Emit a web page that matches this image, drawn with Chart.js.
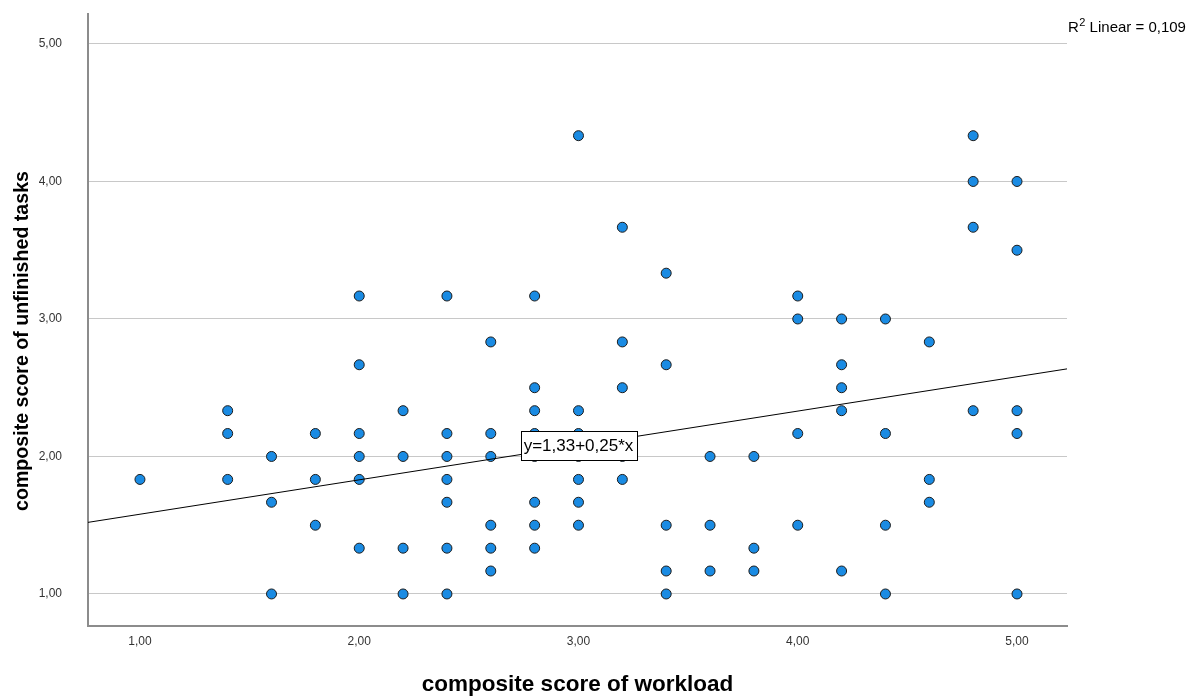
<!DOCTYPE html>
<html>
<head>
<meta charset="utf-8">
<title>Workload vs unfinished tasks</title>
<script src="https://cdn.jsdelivr.net/npm/chart.js@4.4.1/dist/chart.umd.min.js"></script>
<style>
    html, body { margin: 0; padding: 0; background: #fff; }
    #wrap { width: 1198px; height: 698px; position: relative; }
</style>
</head>
<body>
<div id="wrap"><canvas id="scatterChart" width="1198" height="698"></canvas></div>
<script>
// Data (one entry per respondent)
const workload = [
    1.0,
    1.4, 1.4, 1.4,
    1.6, 1.6, 1.6,
    1.8, 1.8, 1.8,
    2.0, 2.0, 2.0, 2.0, 2.0, 2.0,
    2.2, 2.2, 2.2, 2.2,
    2.4, 2.4, 2.4, 2.4, 2.4, 2.4, 2.4,
    2.6, 2.6, 2.6, 2.6, 2.6, 2.6,
    2.8, 2.8, 2.8, 2.8, 2.8, 2.8, 2.8, 2.8,
    3.0, 3.0, 3.0, 3.0, 3.0, 3.0, 3.0,
    3.2, 3.2, 3.2, 3.2, 3.2,
    3.4, 3.4, 3.4, 3.4, 3.4,
    3.6, 3.6, 3.6,
    3.8, 3.8, 3.8,
    4.0, 4.0, 4.0, 4.0,
    4.2, 4.2, 4.2, 4.2, 4.2,
    4.4, 4.4, 4.4, 4.4,
    4.6, 4.6, 4.6,
    4.8, 4.8, 4.8, 4.8,
    5.0, 5.0, 5.0, 5.0, 5.0
];
const unfinished = [
    1.833,
    2.333, 2.167, 1.833,
    2.0, 1.667, 1.0,
    2.167, 1.833, 1.5,
    3.167, 2.667, 2.167, 2.0, 1.833, 1.333,
    2.333, 2.0, 1.333, 1.0,
    3.167, 2.167, 2.0, 1.833, 1.667, 1.333, 1.0,
    2.833, 2.167, 2.0, 1.5, 1.333, 1.167,
    3.167, 2.5, 2.333, 2.167, 2.0, 1.667, 1.5, 1.333,
    4.333, 2.333, 2.167, 2.0, 1.833, 1.667, 1.5,
    3.667, 2.833, 2.5, 2.0, 1.833,
    3.333, 2.667, 1.5, 1.167, 1.0,
    2.0, 1.5, 1.167,
    2.0, 1.333, 1.167,
    3.167, 3.0, 2.167, 1.5,
    3.0, 2.667, 2.5, 2.333, 1.167,
    3.0, 2.167, 1.5, 1.0,
    2.833, 1.833, 1.667,
    4.333, 4.0, 3.667, 2.333,
    4.0, 3.5, 2.333, 2.167, 1.0
];

// Axis ranges and tick labels
const xRange = [0.763, 5.228];
const yRange = [0.767, 5.218];
const tickValues = [1, 2, 3, 4, 5];
const yTitle = 'composite score of unfinished tasks';

// Linear fit reported in the chart
const fitIntercept = 1.33;
const fitSlope = 0.25;
const fitLabel = 'y=1,33+0,25*x';
const fitLabelAt = 3.0;
const rSquaredText = '0,109';

const FONT = "'Liberation Sans', Arial, sans-serif";

function fmtComma(v) {
    return Number(v).toFixed(2).replace('.', ',');
}

const points = workload.map((x, i) => ({ x: x, y: unfinished[i] }));
const fitPoints = xRange.map(x => ({ x: x, y: fitIntercept + fitSlope * x }));

// Draw equation box, R² note and the (condensed) y axis title
const annotations = {
    id: 'annotations',
    afterDatasetsDraw(chart) {
        const ctx = chart.ctx;
        const xs = chart.scales.x;
        const ys = chart.scales.y;

        // equation label sitting on the fit line
        const cx = xs.getPixelForValue(fitLabelAt);
        const cy = ys.getPixelForValue(fitIntercept + fitSlope * fitLabelAt);
        ctx.save();
        ctx.font = "17px 'Liberation Sans Narrow', 'Liberation Sans', Arial, sans-serif";
        const w = ctx.measureText(fitLabel).width + 6;
        const h = 29;
        ctx.fillStyle = '#ffffff';
        ctx.fillRect(Math.round(cx - w / 2) + 0.5, Math.round(cy - h / 2) + 0.5, Math.round(w), h);
        ctx.strokeStyle = '#000000';
        ctx.lineWidth = 1;
        ctx.strokeRect(Math.round(cx - w / 2) + 0.5, Math.round(cy - h / 2) + 0.5, Math.round(w), h);
        ctx.fillStyle = '#000000';
        ctx.textAlign = 'center';
        ctx.textBaseline = 'middle';
        ctx.fillText(fitLabel, cx, cy + 1);

        // R² Linear note, top right
        const left = chart.chartArea.right + 1;
        const base = 32;
        ctx.textAlign = 'left';
        ctx.textBaseline = 'alphabetic';
        ctx.font = '15px ' + FONT;
        ctx.fillText('R', left, base);
        let px = left + ctx.measureText('R').width;
        ctx.font = '11px ' + FONT;
        ctx.fillText('2', px + 0.5, base - 6);
        px += ctx.measureText('2').width + 0.5;
        ctx.font = '15px ' + FONT;
        ctx.fillText(' Linear = ' + rSquaredText, px, base);

        // y axis title, squeezed along its length like the original
        ctx.font = 'bold 21px ' + FONT;
        const tw = ctx.measureText(yTitle).width;
        ctx.translate(22, 341);
        ctx.rotate(-Math.PI / 2);
        ctx.scale(340 / tw, 1);
        ctx.textAlign = 'center';
        ctx.textBaseline = 'middle';
        ctx.fillText(yTitle, 0, 0);
        ctx.restore();
    }
};

const ctx = document.getElementById('scatterChart');
const chart = new Chart(ctx, {
    type: 'scatter',
    data: {
        datasets: [{
            label: 'Observed',
            data: points,
            backgroundColor: '#1a8be3',
            borderColor: '#1c1c1c',
            borderWidth: 1,
            pointRadius: 5,
            pointHoverRadius: 5,
            order: 2
        }, {
            type: 'line',
            label: 'Linear fit',
            data: fitPoints,
            borderColor: '#000000',
            borderWidth: 1,
            pointRadius: 0,
            fill: false,
            order: 1
        }]
    },
    options: {
        responsive: false,
        animation: false,
        events: [],
        layout: {
            padding: { top: 14, right: 131, left: 0, bottom: 0 }
        },
        plugins: {
            legend: { display: false },
            tooltip: { enabled: false }
        },
        scales: {
            x: {
                type: 'linear',
                min: xRange[0],
                max: xRange[1],
                afterBuildTicks: scale => {
                    scale.ticks = tickValues.map(v => ({ value: v }));
                },
                afterFit: scale => {
                    scale.height = 72;
                    scale.paddingLeft = 0;
                    scale.paddingRight = 0;
                },
                grid: { display: false, drawTicks: false },
                border: { display: true, color: '#8c8c8c', width: 2 },
                ticks: {
                    padding: 8,
                    color: '#333333',
                    font: { family: FONT, size: 12 },
                    maxRotation: 0,
                    callback: v => fmtComma(v)
                },
                title: {
                    display: true,
                    text: 'composite score of workload',
                    color: '#000000',
                    font: { family: FONT, size: 22.5, weight: 'bold', lineHeight: 1 },
                    padding: { top: 0, bottom: 1.5 }
                }
            },
            y: {
                type: 'linear',
                min: yRange[0],
                max: yRange[1],
                afterBuildTicks: scale => {
                    scale.ticks = tickValues.map(v => ({ value: v }));
                },
                afterFit: scale => {
                    scale.width = 88;
                    scale.paddingTop = 0;
                    scale.paddingBottom = 0;
                },
                grid: { color: '#c8c8c8', lineWidth: 1, drawTicks: false },
                border: { display: true, color: '#8c8c8c', width: 2 },
                ticks: {
                    padding: 26,
                    color: '#333333',
                    font: { family: FONT, size: 12 },
                    callback: v => fmtComma(v)
                },
                title: { display: false }
            }
        }
    },
    plugins: [annotations]
});
</script>
</body>
</html>
